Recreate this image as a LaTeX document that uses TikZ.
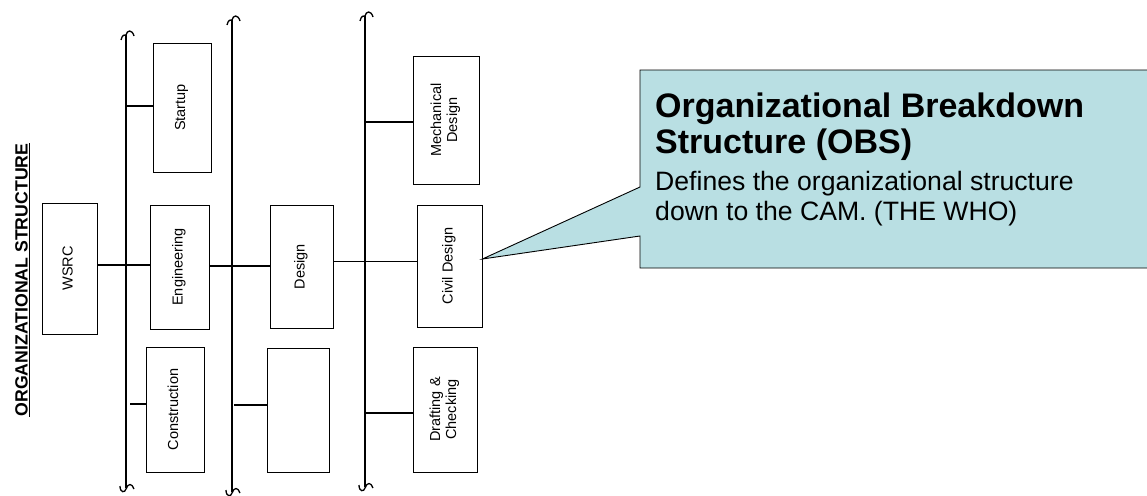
\documentclass[tikz,border=0pt]{standalone}
\usepackage{fontspec}
\usepackage{graphicx}
\setmainfont{Liberation Sans}
\definecolor{calloutfill}{RGB}{185,223,227}
\newcommand{\vtext}[1]{\rotatebox{90}{\begin{tabular}{@{}c@{}}#1\end{tabular}}}
\begin{document}
\begin{tikzpicture}[x=1pt,y=-1pt,
  orgbox/.style 2 args={draw=black, line width=0.8pt, minimum width=#1, minimum height=#2,
    inner sep=0pt, font=\fontsize{14.5}{16}\selectfont},
  bar/.style={line width=1.8pt},
  link/.style={line width=1.6pt},
  squig/.style={line width=1.3pt}]
\useasboundingbox (0,0) rectangle (1147,495);

% heading
\node[rotate=90, font=\bfseries\fontsize{17.7}{20}\selectfont] (title) at (22.5,280)
  {\underline{ORGANIZATIONAL STRUCTURE}};

% organisation boxes
\node[orgbox={55pt}{131pt}] (wsrc)   at (69.5,268.5) {\vtext{WSRC}};
\node[orgbox={58pt}{129pt}] (start)  at (182,107.5)  {\vtext{Startup}};
\node[orgbox={59pt}{124pt}] (eng)    at (179.5,267)  {\vtext{Engineering}};
\node[orgbox={58pt}{125pt}] (constr) at (175,409.5)  {\vtext{Construction}};
\node[orgbox={63pt}{123pt}] (design) at (301.5,266.5) {\vtext{Design}};
\node[orgbox={62pt}{124pt}] (blank)  at (298,410)    {};
\node[orgbox={66pt}{128pt}] (mech)   at (446,120)    {\vtext{Mechanical\\Design}};
\node[orgbox={65pt}{122pt}] (civil)  at (449.5,266)  {\vtext{Civil Design}};
\node[orgbox={64pt}{125pt}] (draft)  at (445,409.5)  {\vtext{Drafting \&\\Checking}};

% vertical bars with broken ends
\coordinate (b1t) at (126,35);  \coordinate (b1b) at (126,488);
\coordinate (b2t) at (232,20);  \coordinate (b2b) at (232,492);
\coordinate (b3t) at (365,16);  \coordinate (b3b) at (365,487);
\foreach \t/\b in {b1t/b1b, b2t/b2b, b3t/b3b}{
  \draw[bar] (\t) -- (\b);
  \draw[squig] ([shift={(-5pt,-5pt)}]\t) .. controls ([shift={(-4pt,0pt)}]\t) and ([shift={(-1pt,1pt)}]\t) .. (\t)
     .. controls ([shift={(1pt,5pt)}]\t) and ([shift={(6pt,6pt)}]\t) .. ([shift={(8pt,-1pt)}]\t);
  \draw[squig] ([shift={(-6pt,2pt)}]\b) .. controls ([shift={(-6pt,-5pt)}]\b) and ([shift={(-1pt,-5pt)}]\b) .. ([shift={(0pt,-1pt)}]\b)
     .. controls ([shift={(2pt,5pt)}]\b) and ([shift={(6pt,5pt)}]\b) .. ([shift={(8pt,-1pt)}]\b);
}

% branch points on the bars
\coordinate (s1) at (126,106);
\coordinate (s2) at (130,404);
\coordinate (s3) at (234,405);
\coordinate (s4) at (365,122);
\coordinate (s5) at (365,413);

% connectors
\draw[link] ([yshift=3.5pt]wsrc.east) -- ([yshift=3.5pt]wsrc.east -| eng.west);
\draw[link] ([yshift=1pt]eng.east) -- ([yshift=1pt]eng.east -| design.west);
\draw[link] ([yshift=5pt]design.east) -- ([yshift=5pt]design.east -| civil.west);
\draw[link] (s1) -- (s1 -| start.west);
\draw[link] (s2) -- (s2 -| constr.west);
\draw[link] (s3) -- (s3 -| blank.west);
\draw[link] (s4) -- (s4 -| mech.west);
\draw[link] (s5) -- (s5 -| draft.west);

% callout
\coordinate (tip) at ([yshift=7pt]civil.east);
\coordinate (ctl) at (1152,70);
\coordinate (cbl) at (1152,268);
\fill[calloutfill] (ctl) -- (640,70) -- (640,187) -- (tip) -- (640,236) -- (640,268) -- (cbl) -- cycle;
\draw[line width=0.9pt, line join=miter] (ctl) -- (640,70) -- (640,187) -- (tip) -- (640,236) -- (640,268) -- (cbl);
\node[anchor=base west, inner sep=0pt, font=\bfseries\fontsize{34}{36}\selectfont] (obs1) at (655,117) {Organizational Breakdown};
\node[anchor=base west, inner sep=0pt, font=\bfseries\fontsize{34}{36}\selectfont] (obs2) at (655,153) {Structure (OBS)};
\node[anchor=base west, inner sep=0pt, font=\fontsize{26.6}{30}\selectfont] (def1) at (655,190) {Defines the organizational structure};
\node[anchor=base west, inner sep=0pt, font=\fontsize{26.6}{30}\selectfont] (def2) at (655,220) {down to the CAM. (THE WHO)};
\end{tikzpicture}
\end{document}
